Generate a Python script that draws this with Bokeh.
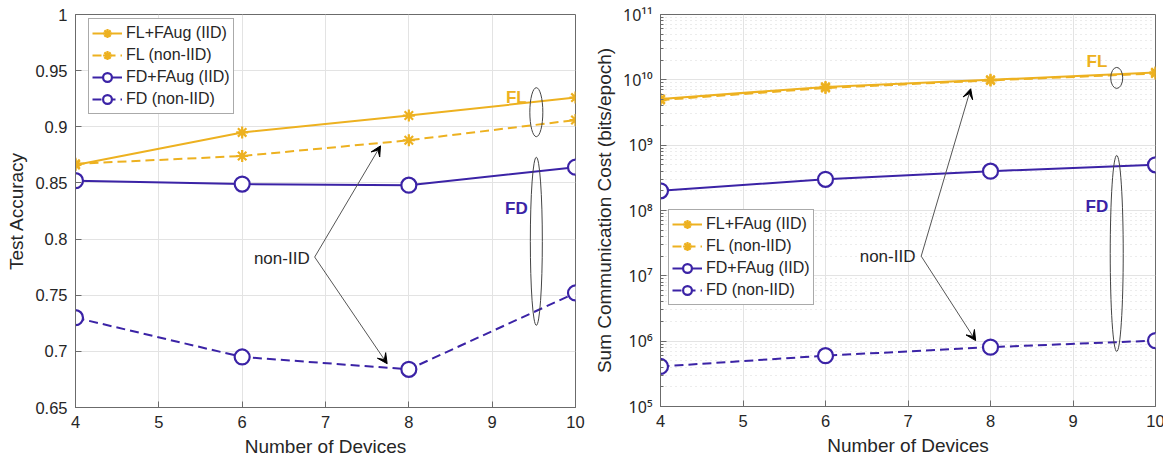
from bokeh.plotting import figure
from bokeh.layouts import row
from bokeh.models import FixedTicker, Legend, LegendItem, Arrow, VeeHead, Range1d
from bokeh.core.properties import value
from bokeh.embed import file_html
from bokeh.resources import INLINE

# ---------------- data ----------------
devices = [4, 6, 8, 10]

acc_fl_faug_iid = [0.866, 0.895, 0.910, 0.926]
acc_fl_noniid = [0.867, 0.874, 0.888, 0.906]
acc_fd_faug_iid = [0.852, 0.849, 0.848, 0.864]
acc_fd_noniid = [0.730, 0.695, 0.684, 0.752]

cost_fl_faug_iid = [5.1e9, 7.8e9, 1.0e10, 1.3e10]
cost_fl_noniid = [4.9e9, 7.5e9, 9.8e9, 1.25e10]
cost_fd_faug_iid = [2.0e8, 3.0e8, 4.0e8, 5.0e8]
cost_fd_noniid = [4.1e5, 6.0e5, 8.1e5, 1.02e6]

series_labels = ["FL+FAug (IID)", "FL (non-IID)", "FD+FAug (IID)", "FD (non-IID)"]

x_ticks = [4, 5, 6, 7, 8, 9, 10]
acc_ticks = [0.65, 0.7, 0.75, 0.8, 0.85, 0.9, 0.95, 1.0]
acc_tick_labels = ["0.65", "0.7", "0.75", "0.8", "0.85", "0.9", "0.95", "1"]
cost_ticks = [1e5, 1e6, 1e7, 1e8, 1e9, 1e10, 1e11]
cost_tick_labels = ["10\u2075", "10\u2076", "10\u2077", "10\u2078", "10\u2079", "10\u00b9\u2070", "10\u00b9\u00b9"]
cost_minor = [m * d for d in [1e5, 1e6, 1e7, 1e8, 1e9, 1e10] for m in range(2, 10)]

# annotations (data coordinates)
acc_group_labels = ["FL", "FD"]
acc_group_x = [9.29, 9.29]
acc_group_y = [0.926, 0.827]
acc_ell_x = [9.53, 9.53]
acc_ell_y = [0.913, 0.798]
acc_ell_h = [49, 168]
acc_ell_w = [13, 12]
acc_note_x, acc_note_y = 6.81, 0.783
acc_arrow_start = (6.87, 0.784)
acc_arrow_ends = [(7.66, 0.883), (7.74, 0.689)]

cost_group_x = [9.29, 9.29]
cost_group_y = [1.9e10, 1.15e8]
cost_ell_x = [9.53, 9.53]
cost_ell_y = [1.07e10, 2.2e7]
cost_ell_h = [21, 196]
cost_ell_w = [12, 13]
cost_note_x, cost_note_y = 7.09, 1.95e7
cost_arrow_start = (7.16, 2.0e7)
cost_arrow_ends = [(7.76, 7.3e9), (7.82, 1.02e6)]

# ---------------- style ----------------
ORANGE = "#EDB120"
BLUE = "#3b23a6"
FONT = "Liberation Sans"
TXT = "#262626"
AX = "#6b6b6b"
DASH = "9 5"


def style_axes(p):
    for ax in (p.xaxis[0], p.yaxis[0]):
        ax.axis_line_color = AX
        ax.major_tick_line_color = AX
        ax.minor_tick_line_color = AX
        ax.major_tick_in = 6
        ax.major_tick_out = 0
        ax.minor_tick_in = 3
        ax.minor_tick_out = 0
        ax.major_label_text_font = FONT
        ax.major_label_text_font_size = "16.5px"
        ax.major_label_text_color = TXT
        ax.axis_label_text_font = FONT
        ax.axis_label_text_font_size = "19px"
        ax.axis_label_text_font_style = "normal"
        ax.axis_label_text_color = TXT
        ax.major_label_standoff = 8
        ax.axis_label_standoff = 5
    p.outline_line_color = AX
    p.outline_line_alpha = 1.0
    p.xgrid.grid_line_color = "#e3e3e3"
    p.ygrid.grid_line_color = "#e3e3e3"
    p.xaxis.ticker = FixedTicker(ticks=x_ticks)
    p.xgrid.ticker = FixedTicker(ticks=x_ticks)
    p.xaxis.axis_label = "Number of Devices"


def draw_series(p, ys):
    specs = [
        (ORANGE, "solid", "asterisk"),
        (ORANGE, DASH, "asterisk"),
        (BLUE, "solid", "circle"),
        (BLUE, DASH, "circle"),
    ]
    items = []
    for y, lab, (col, dash, mk) in zip(ys, series_labels, specs):
        ln = p.line(devices, y, line_color=col, line_width=2, line_dash=dash)
        if mk == "asterisk":
            sc = p.scatter(devices, y, marker="asterisk", size=12, line_color=col, line_width=2.2)
        else:
            sc = p.scatter(devices, y, marker="circle", size=15, line_color=col, line_width=2.2,
                           fill_color="white")
        items.append(LegendItem(label=lab, renderers=[ln, sc]))
    return items


def make_legend(items, loc):
    lg = Legend(items=items, location=loc)
    lg.label_text_font = FONT
    lg.label_text_font_size = "16px"
    lg.label_text_color = TXT
    lg.border_line_color = "#555555"
    lg.border_line_width = 1
    lg.background_fill_alpha = 1.0
    lg.glyph_width = 30
    lg.glyph_height = 22
    lg.label_height = 22
    lg.spacing = 0
    lg.padding = 3
    lg.margin = 0
    lg.label_standoff = 4
    return lg


# ---------------- left: accuracy ----------------
p1 = figure(frame_width=500, frame_height=393, output_backend="svg", toolbar_location=None,
            x_range=Range1d(4, 10), y_range=Range1d(0.65, 1.0),
            min_border_left=75, min_border_right=15, min_border_top=14, min_border_bottom=53)
style_axes(p1)
p1.yaxis.ticker = FixedTicker(ticks=acc_ticks)
p1.ygrid.ticker = FixedTicker(ticks=acc_ticks)
p1.yaxis.major_label_overrides = dict(zip(acc_ticks, acc_tick_labels))
p1.yaxis.axis_label = "Test Accuracy"
items1 = draw_series(p1, [acc_fl_faug_iid, acc_fl_noniid, acc_fd_faug_iid, acc_fd_noniid])
p1.add_layout(make_legend(items1, (13, 293)))

p1.ellipse(x=acc_ell_x, y=acc_ell_y, width=acc_ell_w, height=acc_ell_h,
           width_units="screen", height_units="screen", fill_color=None,
           line_color="#444444", line_width=1)
p1.text(x=acc_group_x, y=acc_group_y, text=acc_group_labels, text_color=[ORANGE, BLUE],
        text_font=value(FONT), text_font_style="bold", text_font_size="17px",
        text_align="center", text_baseline="middle")
p1.text(x=[acc_note_x], y=[acc_note_y], text=["non-IID"], text_color=TXT,
        text_font=value(FONT), text_font_size="17px", text_align="right", text_baseline="middle")
for xe, ye in acc_arrow_ends:
    p1.add_layout(Arrow(x_start=acc_arrow_start[0], y_start=acc_arrow_start[1], x_end=xe, y_end=ye,
                        line_color="#555555", line_width=1,
                        end=VeeHead(size=10, fill_color="black", line_color="black", line_width=1)))

# ---------------- right: communication cost ----------------
p2 = figure(frame_width=495, frame_height=392, output_backend="svg", toolbar_location=None,
            x_range=Range1d(4, 10), y_range=Range1d(1e5, 1e11), y_axis_type="log",
            min_border_left=67, min_border_right=11, min_border_top=14, min_border_bottom=54)
style_axes(p2)
p2.yaxis.ticker = FixedTicker(ticks=cost_ticks, minor_ticks=cost_minor)
p2.ygrid.ticker = FixedTicker(ticks=cost_ticks, minor_ticks=cost_minor)
p2.ygrid.minor_grid_line_color = "#d9d9d9"
p2.ygrid.minor_grid_line_dash = "1 4"
p2.yaxis.major_label_overrides = dict(zip(cost_ticks, cost_tick_labels))
p2.yaxis.major_label_text_font = "Noto Sans"
p2.yaxis.major_label_text_font_size = "16px"
p2.yaxis.axis_label = "Sum Communication Cost (bits/epoch)"
items2 = draw_series(p2, [cost_fl_faug_iid, cost_fl_noniid, cost_fd_faug_iid, cost_fd_noniid])
p2.add_layout(make_legend(items2, (8, 101)))

p2.ellipse(x=cost_ell_x, y=cost_ell_y, width=cost_ell_w, height=cost_ell_h,
           width_units="screen", height_units="screen", fill_color=None,
           line_color="#444444", line_width=1)
p2.text(x=cost_group_x, y=cost_group_y, text=acc_group_labels, text_color=[ORANGE, BLUE],
        text_font=value(FONT), text_font_style="bold", text_font_size="17px",
        text_align="center", text_baseline="middle")
p2.text(x=[cost_note_x], y=[cost_note_y], text=["non-IID"], text_color=TXT,
        text_font=value(FONT), text_font_size="17px", text_align="right", text_baseline="middle")
for xe, ye in cost_arrow_ends:
    p2.add_layout(Arrow(x_start=cost_arrow_start[0], y_start=cost_arrow_start[1], x_end=xe, y_end=ye,
                        line_color="#555555", line_width=1,
                        end=VeeHead(size=10, fill_color="black", line_color="black", line_width=1)))

layout = row(p1, p2)
open("out.html", "w").write(file_html(layout, INLINE))
